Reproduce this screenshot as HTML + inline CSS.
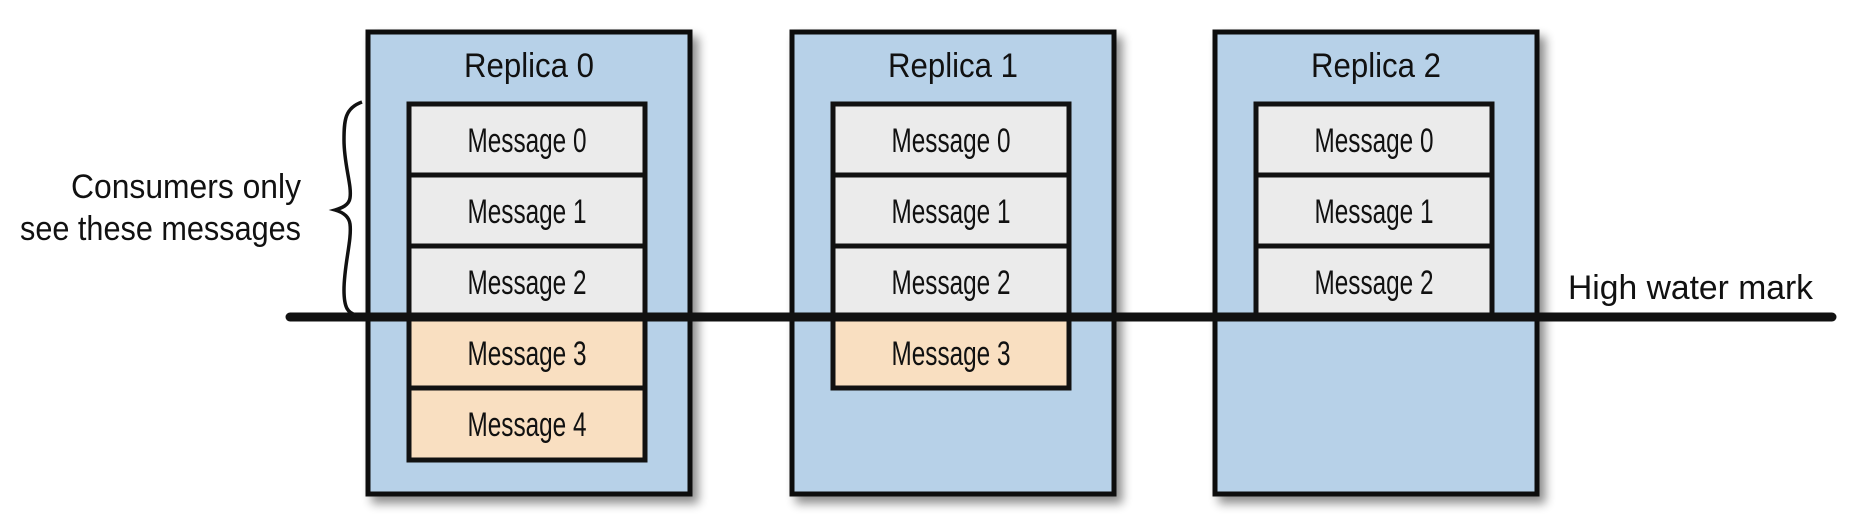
<!DOCTYPE html>
<html><head><style>
html,body{margin:0;padding:0;background:#fff;}
svg{display:block;}
text{font-family:"Liberation Sans",sans-serif;fill:#111;}
</style></head><body>
<svg width="1852" height="528" viewBox="0 0 1852 528" xmlns="http://www.w3.org/2000/svg">
<defs>
<filter id="sh" x="-10%" y="-10%" width="130%" height="130%">
<feGaussianBlur in="SourceAlpha" stdDeviation="5"/>
<feOffset dx="6" dy="7"/>
<feComponentTransfer><feFuncA type="linear" slope="0.45"/></feComponentTransfer>
<feMerge><feMergeNode/><feMergeNode in="SourceGraphic"/></feMerge>
</filter>
</defs>

<g stroke="#111" stroke-width="5" fill="#b7d1e8">
<rect x="368" y="32" width="322" height="462" filter="url(#sh)"/>
<rect x="792" y="32" width="322" height="462" filter="url(#sh)"/>
<rect x="1215" y="32" width="322" height="462" filter="url(#sh)"/>
</g>

<g font-size="34" text-anchor="middle">
<text x="529" y="77" textLength="130" lengthAdjust="spacingAndGlyphs">Replica 0</text>
<text x="953" y="77" textLength="130" lengthAdjust="spacingAndGlyphs">Replica 1</text>
<text x="1376" y="77" textLength="130" lengthAdjust="spacingAndGlyphs">Replica 2</text>
</g>

<g stroke="#111" stroke-width="5">
<rect x="409" y="104" width="236" height="71" fill="#ebebeb"/>
<rect x="409" y="175" width="236" height="71" fill="#ebebeb"/>
<rect x="409" y="246" width="236" height="71" fill="#ebebeb"/>
<rect x="409" y="317" width="236" height="71" fill="#f9dfc1"/>
<rect x="409" y="388" width="236" height="72" fill="#f9dfc1"/>

<rect x="833" y="104" width="236" height="71" fill="#ebebeb"/>
<rect x="833" y="175" width="236" height="71" fill="#ebebeb"/>
<rect x="833" y="246" width="236" height="71" fill="#ebebeb"/>
<rect x="833" y="317" width="236" height="71" fill="#f9dfc1"/>

<rect x="1256" y="104" width="236" height="71" fill="#ebebeb"/>
<rect x="1256" y="175" width="236" height="71" fill="#ebebeb"/>
<rect x="1256" y="246" width="236" height="71" fill="#ebebeb"/>
</g>

<g font-size="34" text-anchor="middle">
<text x="527" y="152" textLength="119" lengthAdjust="spacingAndGlyphs">Message 0</text>
<text x="527" y="223" textLength="119" lengthAdjust="spacingAndGlyphs">Message 1</text>
<text x="527" y="294" textLength="119" lengthAdjust="spacingAndGlyphs">Message 2</text>
<text x="527" y="365" textLength="119" lengthAdjust="spacingAndGlyphs">Message 3</text>
<text x="527" y="436" textLength="119" lengthAdjust="spacingAndGlyphs">Message 4</text>

<text x="951" y="152" textLength="119" lengthAdjust="spacingAndGlyphs">Message 0</text>
<text x="951" y="223" textLength="119" lengthAdjust="spacingAndGlyphs">Message 1</text>
<text x="951" y="294" textLength="119" lengthAdjust="spacingAndGlyphs">Message 2</text>
<text x="951" y="365" textLength="119" lengthAdjust="spacingAndGlyphs">Message 3</text>

<text x="1374" y="152" textLength="119" lengthAdjust="spacingAndGlyphs">Message 0</text>
<text x="1374" y="223" textLength="119" lengthAdjust="spacingAndGlyphs">Message 1</text>
<text x="1374" y="294" textLength="119" lengthAdjust="spacingAndGlyphs">Message 2</text>
</g>

<line x1="290" y1="317" x2="1832" y2="317" stroke="#111" stroke-width="9" stroke-linecap="round"/>
<text x="1568" y="299" font-size="34" textLength="245" lengthAdjust="spacingAndGlyphs">High water mark</text>

<path d="M362,102 C345,108 344,120 344,140 C344,165 352,185 350,198 C349,205 342,208 335,210 C342,212 349,216 350,224 C352,240 344,265 344,290 C344,308 348,313 356,315" fill="none" stroke="#111" stroke-width="3.5"/>

<g font-size="34" text-anchor="end">
<text x="301" y="198" textLength="230" lengthAdjust="spacingAndGlyphs">Consumers only</text>
<text x="301" y="240" textLength="281" lengthAdjust="spacingAndGlyphs">see these messages</text>
</g>
</svg>
</body></html>
